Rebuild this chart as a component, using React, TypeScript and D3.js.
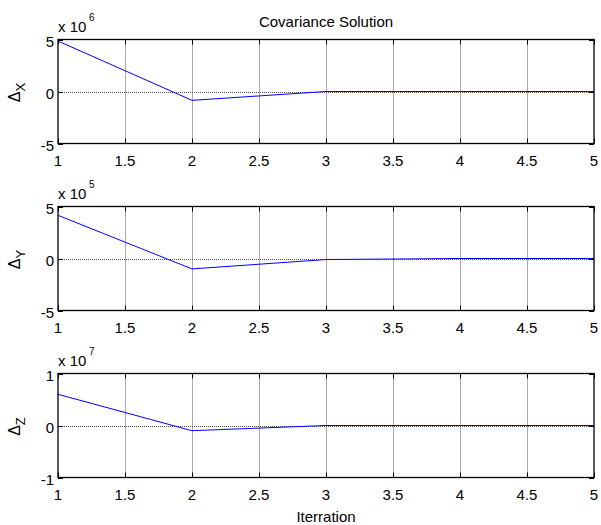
import * as d3 from 'd3';

const iterations = [1, 2, 3, 4, 5];
const deltaX = [4.85e6, -0.85e6, 0, 0, 0];
const deltaY = [4.15e5, -1.0e5, -0.1e5, 0, 0];
const deltaZ = [0.6e7, -0.1e7, 0, 0, 0];

const xTicks = [1, 1.5, 2, 2.5, 3, 3.5, 4, 4.5, 5];

const panels = [
  { name: 'X', values: deltaX, exponent: 6, limit: 5, ticks: [-5, 0, 5] },
  { name: 'Y', values: deltaY, exponent: 5, limit: 5, ticks: [-5, 0, 5] },
  { name: 'Z', values: deltaZ, exponent: 7, limit: 1, ticks: [-1, 0, 1] },
];

const W = 601;
const H = 525;
const left = 58;
const right = 594;
const panelTops = [39.5, 206.5, 373.5];
const panelH = 104;
const font = '"Liberation Sans", Arial, sans-serif';
const tickLen = 5;

const Panel = ({ p, top }) => {
  const bottom = top + panelH;
  const x = d3.scaleLinear().domain([1, 5]).range([left, right]);
  const scale = Math.pow(10, p.exponent);
  const y = d3.scaleLinear().domain([-p.limit, p.limit]).range([bottom, top]);
  const line = d3
    .line<number>()
    .x((d, i) => x(iterations[i]))
    .y((d) => y(d / scale));

  return (
    <g>
      {/* grid */}
      {xTicks.slice(1, -1).map((t) => (
        <line
          key={'g' + t}
          x1={Math.round(x(t)) + 0.5}
          x2={Math.round(x(t)) + 0.5}
          y1={top}
          y2={bottom}
          stroke="#555"
          strokeDasharray="1 1"
        />
      ))}
      {p.ticks.slice(1, -1).map((t) => (
        <line
          key={'h' + t}
          x1={left}
          x2={right}
          y1={Math.round(y(t)) + 0.5}
          y2={Math.round(y(t)) + 0.5}
          stroke="#555"
          strokeDasharray="1 1"
        />
      ))}
      {/* tick marks */}
      {xTicks.map((t) => (
        <g key={'t' + t}>
          <line x1={Math.round(x(t)) + 0.5} x2={Math.round(x(t)) + 0.5} y1={bottom} y2={bottom - tickLen} stroke="#000" />
          <line x1={Math.round(x(t)) + 0.5} x2={Math.round(x(t)) + 0.5} y1={top} y2={top + tickLen} stroke="#000" />
          <text
            x={x(t)}
            y={bottom + 22}
            textAnchor="middle"
            fontSize={15}
            fontFamily={font}
          >
            {d3.format('')(t)}
          </text>
        </g>
      ))}
      {p.ticks.map((t) => (
        <g key={'y' + t}>
          <line x1={left} x2={left + tickLen} y1={Math.round(y(t)) + 0.5} y2={Math.round(y(t)) + 0.5} stroke="#000" />
          <line x1={right} x2={right - tickLen} y1={Math.round(y(t)) + 0.5} y2={Math.round(y(t)) + 0.5} stroke="#000" />
          <text x={54} y={y(t) + 7.5} textAnchor="end" fontSize={15} fontFamily={font}>
            {t}
          </text>
        </g>
      ))}
      {/* data */}
      <path d={line(p.values) || ''} fill="none" stroke="#0000ff" strokeWidth={1} />
      {/* box */}
      <rect x={left} y={top} width={right - left} height={panelH} fill="none" stroke="#000" strokeWidth={1.3} />
      {/* exponent */}
      <text x={left} y={top - 7.5} fontSize={15} fontFamily={font}>
        x 10
      </text>
      <text x={left + 31} y={top - 19} fontSize={10} fontFamily={font}>
        {p.exponent}
      </text>
      {/* y label */}
      <text
        transform={`translate(20, ${top + 53}) rotate(-90)`}
        textAnchor="middle"
        fontSize={16}
        fontFamily={font}
      >
        <tspan>Δ</tspan>
        <tspan fontSize={13} dy={5}>
          {p.name}
        </tspan>
      </text>
    </g>
  );
};

export default function App() {
  return (
    <svg
      width={W}
      height={H}
      style={{ position: 'absolute', left: 0, top: 0, background: '#fff' }}
    >
      <rect width={W} height={H} fill="#fff" />
      <text x={(left + right) / 2} y={27} textAnchor="middle" fontSize={15} fontFamily={font}>
        Covariance Solution
      </text>
      {panels.map((p, i) => (
        <Panel key={p.name} p={p} top={panelTops[i]} />
      ))}
      <text x={(left + right) / 2} y={522} textAnchor="middle" fontSize={15} fontFamily={font}>
        Iterration
      </text>
    </svg>
  );
}
